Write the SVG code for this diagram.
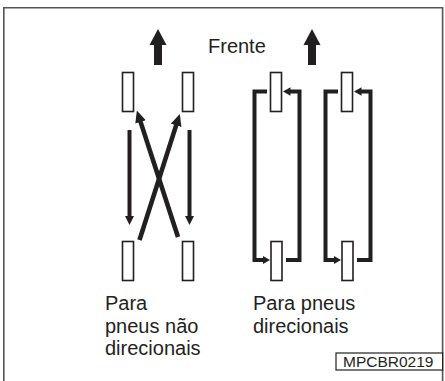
<svg xmlns="http://www.w3.org/2000/svg" width="445" height="381" viewBox="0 0 445 381">
<style>
.frame{fill:none;stroke:#555;stroke-width:1.6}
.tire{fill:#fff;stroke:#231f20;stroke-width:1.6}
.lbl{font-family:"Liberation Sans",Arial,sans-serif;font-size:20px;fill:#231f20}
.code{font-family:"Liberation Sans",Arial,sans-serif;font-size:15.5px;fill:#231f20}
.ar{fill:none;stroke:#231f20;stroke-linejoin:miter;stroke-linecap:butt}
.big{fill:#231f20}
</style>
<defs>
<marker id="hX" markerUnits="userSpaceOnUse" viewBox="0 0 12 11" refX="0.5" refY="5.5" markerWidth="12" markerHeight="11" orient="auto"><path d="M0,0 L12,5.5 L0,11 z" fill="#231f20"/></marker>
<marker id="hS" markerUnits="userSpaceOnUse" viewBox="0 0 9 9" refX="0.5" refY="4.5" markerWidth="9" markerHeight="9" orient="auto"><path d="M0,0 L9,4.5 L0,9 z" fill="#231f20"/></marker>
<marker id="hB" markerUnits="userSpaceOnUse" viewBox="0 0 7.5 8.5" refX="0.5" refY="4.25" markerWidth="7.5" markerHeight="8.5" orient="auto"><path d="M0,0 L7.5,4.25 L0,8.5 z" fill="#231f20"/></marker>
</defs>
<path class="frame" d="M3.8,383 V7.8 H442.6 V383"/>
<g id="front">
<polygon class="big" points="158,29 166.5,45 162,45 162,65 154,65 154,45 149.5,45"/>
<polygon class="big" points="312,29 320.5,45 316,45 316,65 308,65 308,45 303.5,45"/>
<text class="lbl" x="208" y="53">Frente</text>
</g>
<g id="tires-nondirectional">
<rect class="tire" x="122.5" y="72.5" width="11" height="39"/>
<rect class="tire" x="182.5" y="72.5" width="11" height="39"/>
<rect class="tire" x="122.5" y="241.5" width="11" height="39"/>
<rect class="tire" x="182.5" y="241.5" width="11" height="39"/>
</g>
<g id="tires-directional">
<rect class="tire" x="270.5" y="72.5" width="11" height="39"/>
<rect class="tire" x="341.5" y="72.5" width="11" height="39"/>
<rect class="tire" x="271" y="241.5" width="11" height="39"/>
<rect class="tire" x="342" y="241.5" width="11" height="39"/>
</g>
<g id="connectors">
<path class="ar" stroke-width="4" d="M129.5,130 V216.5" marker-end="url(#hS)"/>
<path class="ar" stroke-width="4" d="M189.5,130 V216.5" marker-end="url(#hS)"/>
<path class="ar" stroke-width="4.6" d="M139.5,240 L176.3,124.9" marker-end="url(#hX)"/>
<path class="ar" stroke-width="4.6" d="M178,237 L140.4,121.4" marker-end="url(#hX)"/>
<path class="ar" stroke-width="4" d="M267,91.5 H254.5 V260 H263" marker-end="url(#hB)"/>
<path class="ar" stroke-width="4" d="M286,260 H299.5 V91.5 H290" marker-end="url(#hB)"/>
<path class="ar" stroke-width="4" d="M338,91.5 H325.5 V260 H334" marker-end="url(#hB)"/>
<path class="ar" stroke-width="4" d="M357,260 H370.5 V91.5 H361" marker-end="url(#hB)"/>
</g>
<g id="labels">
<text class="lbl" x="105" y="310">Para</text>
<text class="lbl" x="105" y="333">pneus não</text>
<text class="lbl" x="105" y="355">direcionais</text>
<text class="lbl" x="253" y="310">Para pneus</text>
<text class="lbl" x="253" y="333">direcionais</text>
</g>
<g id="code">
<rect x="336" y="353" width="106.6" height="17" fill="#fff" stroke="#231f20" stroke-width="1.2"/>
<text class="code" x="343" y="367">MPCBR0219</text>
</g>
</svg>
